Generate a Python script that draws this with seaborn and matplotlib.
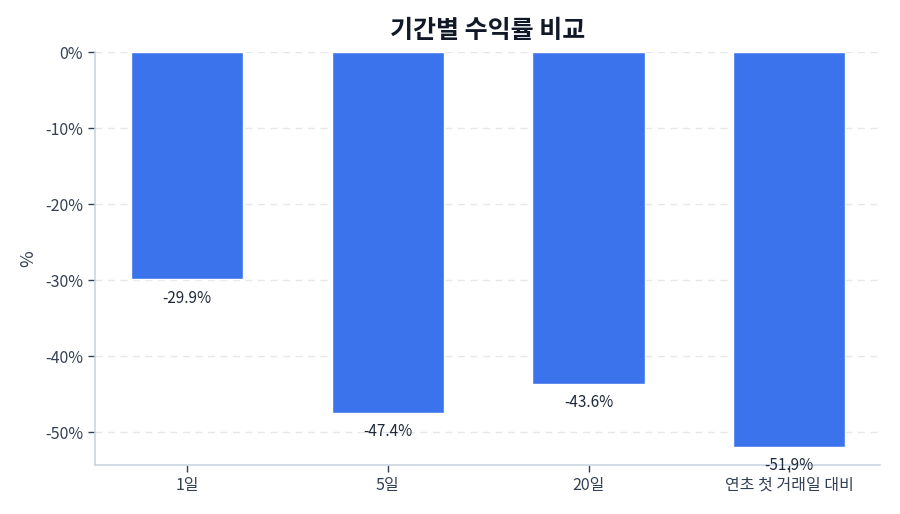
import pandas as pd
import matplotlib.pyplot as plt
import seaborn as sns

# Data
periods = ['1일', '5일', '20일', '연초 첫 거래일 대비']
returns = [-29.9, -47.4, -43.6, -51.9]
df = pd.DataFrame({'기간': periods, '수익률': returns})

sns.set_theme(style='white')
plt.rcParams['font.family'] = ['Noto Sans CJK KR', 'DejaVu Sans']
plt.rcParams['axes.unicode_minus'] = False

text_color = '#334155'
fig = plt.figure(figsize=(9, 5.14), dpi=100)
ax = fig.add_axes([0.1056, 0.0953, 0.8724, 0.8035])

sns.barplot(x='기간', y='수익률', data=df, color='#3b73ec', saturation=1,
            width=0.558, ax=ax, zorder=3)

for i, v in enumerate(returns):
    ax.annotate(f'{v:.1f}%', xy=(i, v), xytext=(0, -7.5), textcoords='offset points',
                ha='center', va='top', fontsize=11, color='#1e293b', zorder=5)

ax.set_xlim(-0.458, 3.453)
ax.set_ylim(-54.3, 0)
ax.set_yticks([0, -10, -20, -30, -40, -50])
ax.set_yticklabels(['0%', '-10%', '-20%', '-30%', '-40%', '-50%'])
ax.grid(axis='y', linestyle=(0, (5, 4)), color='#e5e7eb', linewidth=1, zorder=0)

ax.set_title('기간별 수익률 비교', fontsize=18, fontweight='bold', color='#111827', pad=10)
ax.set_xlabel('')
ax.set_ylabel('%', fontsize=13, color=text_color, labelpad=6)

for s in ['top', 'right']:
    ax.spines[s].set_visible(False)
for s in ['left', 'bottom']:
    ax.spines[s].set_color('#cbd5e1')
    ax.spines[s].set_linewidth(1.2)

ax.tick_params(axis='both', colors=text_color, labelsize=11.5, length=5, width=1,
               bottom=True, left=True)

fig.savefig('out.png', dpi=100)
